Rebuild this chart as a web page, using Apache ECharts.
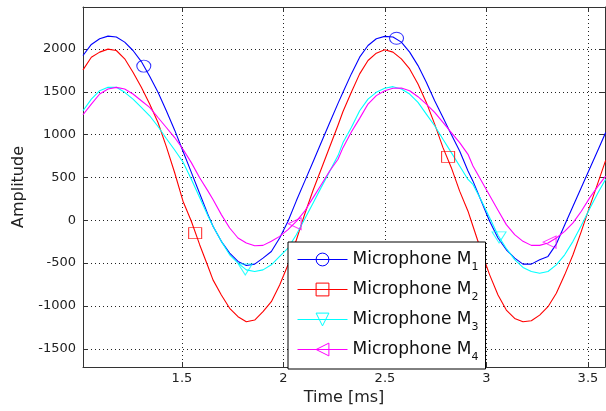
<!DOCTYPE html>
<html>
<head>
<meta charset="utf-8">
<script src="https://cdn.jsdelivr.net/npm/echarts@6/dist/echarts.min.js"></script>
<style>html,body{margin:0;padding:0;background:#fff;}#c{width:606px;height:411px;}</style>
</head>
<body>
<div id="c"></div>
<script>
// ---- data ----
const time = [
  1.0125, 1.0536, 1.0946, 1.1357, 1.1767, 1.2178, 1.2588, 1.2999, 1.3409, 1.3820, 1.4230, 1.4641, 1.5051, 1.5462, 1.5872, 1.6283,
  1.6529, 1.6940, 1.7350, 1.7761, 1.8171, 1.8582, 1.8992, 1.9403, 1.9813, 2.0224, 2.0634, 2.1045, 2.1455, 2.1866, 2.2276, 2.2687,
  2.2933, 2.3344, 2.3754, 2.4165, 2.4575, 2.4986, 2.5396, 2.5807, 2.6217, 2.6628, 2.7038, 2.7449, 2.7859, 2.8270, 2.8680, 2.9091,
  2.9337, 2.9748, 3.0158, 3.0569, 3.0979, 3.1390, 3.1800, 3.2211, 3.2621, 3.3032, 3.3442, 3.3853, 3.4263, 3.4674, 3.5084, 3.5495, 3.5872
];
const mic1 = [
  1924, 2053, 2119, 2150, 2139, 2080, 1982, 1853, 1681, 1494, 1279, 1052, 805, 559, 313, 66,
  -70, -246, -383, -481, -528, -512, -442, -364, -207, -12, 227, 454, 680, 911, 1138, 1365,
  1494, 1709, 1904, 2041, 2119, 2147, 2139, 2080, 1963, 1806, 1611, 1396, 1200, 1000, 809, 575,
  457, 223, -12, -207, -344, -442, -512, -512, -461, -422, -278, -55, 164, 383, 602, 821, 1024
];
const mic2 = [
  1756, 1904, 1963, 1998, 1982, 1885, 1728, 1552, 1357, 1142, 860, 555, 223, -12, -285, -540,
  -696, -872, -1028, -1126, -1185, -1165, -1067, -950, -755, -520, -230, 70, 348, 602, 856, 1110,
  1270, 1494, 1709, 1865, 1951, 1990, 1963, 1885, 1767, 1591, 1376, 1122, 848, 614, 340, 106,
  -70, -364, -637, -872, -1048, -1146, -1185, -1173, -1107, -1009, -852, -637, -403, -129, 160, 440, 700
];
const mic3 = [
  1279, 1415, 1513, 1552, 1552, 1494, 1415, 1318, 1220, 1095, 955, 820, 680, 480, 265, 50,
  -70, -246, -403, -500, -579, -598, -579, -520, -422, -324, -168, 16, 200, 387, 571, 755,
  907, 1083, 1279, 1415, 1494, 1541, 1560, 1533, 1474, 1376, 1239, 1103, 946, 790, 633, 477,
  418, 230, 30, -175, -330, -460, -550, -598, -618, -598, -520, -403, -246, -60, 135, 321, 480
];
const mic4 = [
  1232, 1357, 1474, 1533, 1552, 1533, 1474, 1396, 1318, 1200, 1083, 966, 829, 673, 497, 340,
  242, 66, -90, -207, -266, -297, -293, -246, -188, -109, -12, 106, 262, 418, 575, 712,
  848, 1030, 1190, 1357, 1455, 1513, 1541, 1544, 1513, 1443, 1357, 1259, 1142, 1024, 907, 770,
  633, 461, 289, 117, -51, -168, -246, -293, -293, -266, -207, -129, -31, 106, 262, 399, 516
];
// marker positions (sparse markers on each curve)
const mark1Time = [1.312, 2.557], mark1Val = [1800, 2125];
const mark2Time = [1.565, 2.811], mark2Val = [-150, 740];
const mark3Time = [1.812, 3.062], mark3Val = [-575, -200];
const mark4Time = [2.055, 3.311], mark4Val = [-40, -255];

const seriesNames = ['Microphone M1', 'Microphone M2', 'Microphone M3', 'Microphone M4'];
const xLabel = 'Time [ms]';
const yLabel = 'Amplitude';

// ---- styling ----
const FONT = 'DejaVu Sans';
const colors = ['#0000ff', '#ff0000', '#00ffff', '#ff00ff'];
const symbols = ['circle', 'rect', 'triangle', 'triangle'];
const rotations = [0, 0, 180, 90];
const markSizes = [[14, 12], [13, 11], [14, 11], [12, 13]];
const values = [mic1, mic2, mic3, mic4];
const markT = [mark1Time, mark2Time, mark3Time, mark4Time];
const markV = [mark1Val, mark2Val, mark3Val, mark4Val];

const pair = (t, v) => t.map((x, i) => [x, v[i]]);
const frameColor = '#333';

const series = [];
values.forEach((v, i) => {
  series.push({
    type: 'line', name: seriesNames[i], data: pair(time, v),
    symbol: symbols[i], symbolRotate: rotations[i], showSymbol: false,
    lineStyle: { color: colors[i], width: 1.1 },
    itemStyle: { color: colors[i] },
    silent: true, animation: false, z: 2
  });
});
values.forEach((v, i) => {
  series.push({
    type: 'scatter', name: 'mk' + i, data: pair(markT[i], markV[i]),
    symbol: symbols[i], symbolRotate: rotations[i], symbolSize: markSizes[i],
    itemStyle: { color: 'rgba(0,0,0,0)', borderColor: colors[i], borderWidth: 1 },
    silent: true, animation: false, z: 3
  });
});

const xBase = { type: 'value', min: 1.0125, max: 3.584, splitNumber: 5 };
const yBase = { type: 'value', min: -1713, max: 2490, splitNumber: 8 };
const fmt = v => String(v);

const option = {
  animation: false,
  backgroundColor: '#fff',
  grid: { left: 83, right: 1, top: 7, bottom: 44, outerBoundsMode: 'none', containLabel: false },
  xAxis: [
    Object.assign({}, xBase, {
      position: 'bottom',
      name: xLabel, nameLocation: 'middle', nameGap: 19,
      nameTextStyle: { fontFamily: FONT, fontSize: 16, color: '#222' },
      axisLine: { show: true, onZero: false, lineStyle: { color: frameColor, width: 1 } },
      axisTick: { show: true, inside: true, length: 5, lineStyle: { color: frameColor } },
      axisLabel: { margin: 5, fontFamily: FONT, fontSize: 13, color: '#222', showMinLabel: false, showMaxLabel: false, formatter: fmt },
      splitLine: { show: true, lineStyle: { type: [1, 3], color: '#222', width: 1 } }
    }),
    Object.assign({}, xBase, {
      position: 'top',
      axisLine: { show: true, onZero: false, lineStyle: { color: frameColor, width: 1 } },
      axisTick: { show: true, inside: true, length: 5, lineStyle: { color: frameColor } },
      axisLabel: { show: false },
      splitLine: { show: false }
    })
  ],
  yAxis: [
    Object.assign({}, yBase, {
      position: 'left',
      name: yLabel, nameLocation: 'middle', nameGap: 52, nameRotate: 90,
      nameTextStyle: { fontFamily: FONT, fontSize: 16, color: '#222' },
      axisLine: { show: true, onZero: false, lineStyle: { color: frameColor, width: 1 } },
      axisTick: { show: true, inside: true, length: 5, lineStyle: { color: frameColor } },
      axisLabel: { margin: 7, fontFamily: FONT, fontSize: 13, color: '#222', showMinLabel: false, showMaxLabel: false, formatter: fmt },
      splitLine: { show: true, lineStyle: { type: [1, 3], color: '#222', width: 1 } }
    }),
    Object.assign({}, yBase, {
      position: 'right',
      axisLine: { show: true, onZero: false, lineStyle: { color: frameColor, width: 1 } },
      axisTick: { show: true, inside: true, length: 5, lineStyle: { color: frameColor } },
      axisLabel: { show: false },
      splitLine: { show: false }
    })
  ],
  legend: {
    orient: 'vertical', left: 288, top: 242,
    itemWidth: 50, itemHeight: 16, itemGap: 8,
    padding: [9, 7, 6, 9],
    borderColor: '#000', borderWidth: 1, borderRadius: 0, backgroundColor: '#fff',
    selectedMode: false,
    textStyle: {
      fontFamily: FONT, fontSize: 17, color: '#111',
      rich: { s: { fontFamily: FONT, fontSize: 11, color: '#111', padding: [16, 0, 0, 0] } }
    },
    formatter: name => name.replace(/M(\d)$/, 'M{s|$1}'),
    data: seriesNames.map((n, i) => ({
      name: n,
      itemStyle: { color: 'rgba(0,0,0,0)', borderColor: colors[i], borderWidth: 1 },
      lineStyle: { color: colors[i], width: 1 }
    }))
  },
  series: series
};

const chart = echarts.init(document.getElementById('c'), null, { renderer: 'canvas' });
chart.setOption(option);
</script>
</body>
</html>
